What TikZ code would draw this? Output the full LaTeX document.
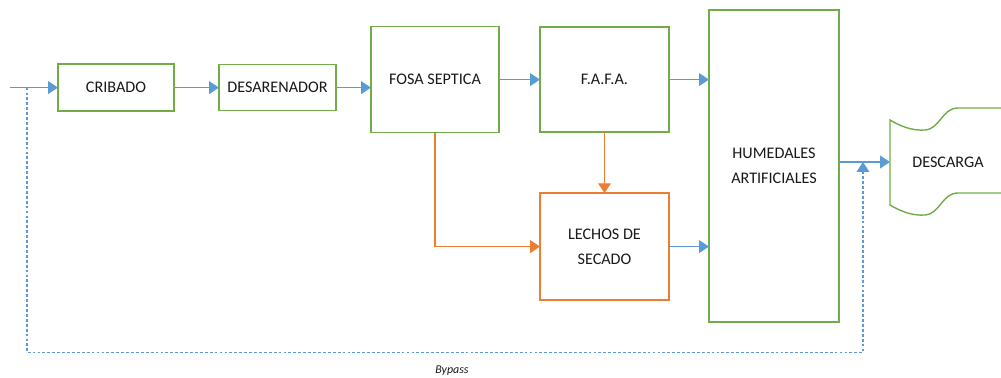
\documentclass[tikz,border=0pt]{standalone}
\usepackage{fontspec}
\setmainfont{Carlito}
\usetikzlibrary{positioning}
\usetikzlibrary{arrows.meta}
\usetikzlibrary{calc}

\definecolor{verde}{RGB}{112,173,71}
\definecolor{azul}{RGB}{91,155,213}
\definecolor{naranja}{RGB}{237,125,49}

\tikzset{
  etapa/.style={draw=verde, line width=1pt, fill=white, align=center, outer sep=0pt,
    text=black!90, font=\fontsize{11.5}{18}\selectfont},
  lodos/.style={etapa, draw=naranja},
  flujo/.style={draw=azul, line width=1pt, -{Triangle[length=7pt,width=9pt]}},
  fango/.style={flujo, draw=naranja},
  desvio/.style={flujo, line width=0.8pt, dash pattern=on 2pt off 1.5pt},
}

\begin{document}
\begin{tikzpicture}
  \useasboundingbox (0,0) rectangle (25.025,-9.45);

  % Define nodes
  \node[etapa, minimum width=2.9cm, minimum height=1.175cm] (cribado) at (2.9,-2.19) {CRIBADO};
  \node[etapa, minimum width=2.925cm, minimum height=1.15cm, right=1.125cm of cribado] (desar) {DESARENADOR};
  \node[etapa, minimum width=3.2cm, minimum height=2.65cm, right=0.875cm of desar, yshift=0.2cm] (fosa) {FOSA SEPTICA};
  \node[etapa, minimum width=3.225cm, minimum height=2.625cm, right=1.025cm of fosa] (fafa) {F.A.F.A.};
  \node[etapa, minimum width=3.25cm, minimum height=7.8cm, right=1cm of fafa, yshift=-2.16cm] (humed) {HUMEDALES\\ARTIFICIALES};
  \node[lodos, minimum width=3.225cm, minimum height=2.675cm, below=1.525cm of fafa] (lechos) {LECHOS DE\\SECADO};
  \node[etapa, draw=none, fill=none, inner sep=0pt, minimum width=2.9cm, minimum height=2.1cm,
    right=1.275cm of humed, yshift=0.1cm] (desc) {DESCARGA};
  \node[text=black!90, font=\fontsize{8.5}{10}\itshape] (bypass) at (11.3,-9.275) {Bypass};

  \coordinate[left=1.2cm of cribado.west] (entrada);
  \coordinate[right=0.425cm of entrada] (ramal);
  \coordinate (salida) at ($(humed.east |- desc.west)!0.47!(desc.west)$);

  % Descarga outline
  \draw[verde, line width=1pt, shift={(desc.west)}]
    (2.8,1.35) -- (1.7,1.35) .. controls (1.3,1.35) and (1.25,0.825) .. (0.875,0.8)
    .. controls (0.55,0.775) and (0.25,0.9) .. (0,1.05) -- (0,-1.075)
    .. controls (0.25,-1.225) and (0.55,-1.35) .. (0.875,-1.325)
    .. controls (1.25,-1.3) and (1.3,-0.775) .. (1.7,-0.775) -- (2.8,-0.775);

  % Connect the nodes
  \draw[flujo] (entrada) -- (cribado);
  \draw[flujo] (cribado) -- (desar);
  \draw[flujo] (desar.east) -- (desar.east -| fosa.west);
  \draw[flujo] (fosa) -- (fafa);
  \draw[flujo] (fafa.east) -- (fafa.east -| humed.west);
  \draw[flujo] (lechos.east) -- (lechos.east -| humed.west);
  \draw[flujo] (humed.east |- desc.west) -- (desc.west);
  \draw[fango] (fafa.south) -- (fafa.south |- lechos.north);
  \draw[fango] (fosa.south) |- (lechos.west);
  \draw[desvio] (ramal) -- ++(0,-6.625) -| (salida);

\end{tikzpicture}
\end{document}
